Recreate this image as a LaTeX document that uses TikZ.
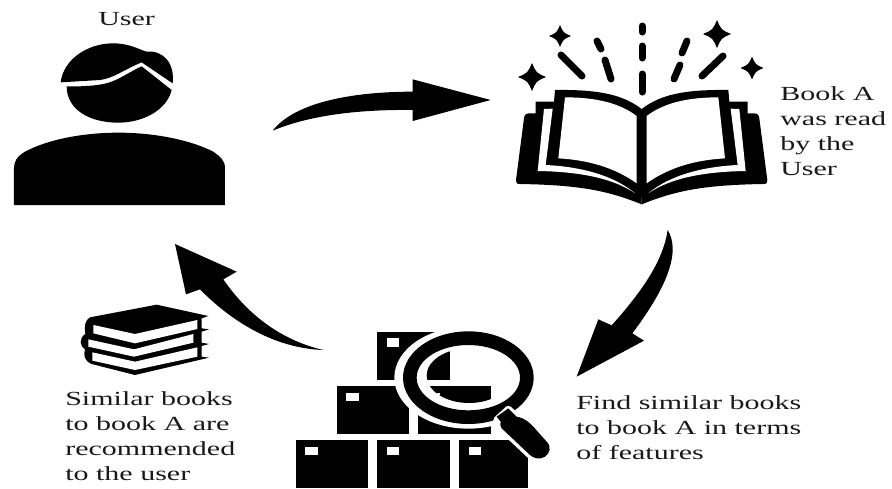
\documentclass[tikz,border=0pt]{standalone}
\usepackage{fontspec}
\setmainfont{Liberation Serif}
\newcommand{\mysparkle}[3]{\fill (#1+#3,#2) .. controls (#1+.3*#3,#2+.3*#3) .. (#1,#2+#3) .. controls (#1-.3*#3,#2+.3*#3) .. (#1-#3,#2) .. controls (#1-.3*#3,#2-.3*#3) .. (#1,#2-#3) .. controls (#1+.3*#3,#2-.3*#3) .. cycle;}
\newcommand{\myboxicon}[2]{\fill (#1,#2) rectangle ++(217,145); \fill[white] (#1+28,#2+20) rectangle ++(38,25);}
\newcommand{\myallboxes}{%
  \myboxicon{292}{35}
  \myboxicon{170}{198}
  \myboxicon{415}{198}
  \myboxicon{47}{360}
  \myboxicon{292}{360}
  \myboxicon{538}{360}}
\newcommand{\myhalfbook}{%
  \fill (425,583) .. controls (330,545) and (250,525) .. (60,522) .. controls (50,522) and (47,518) .. (48,510) -- (72,325) .. controls (73,315) and (78,310) .. (88,310) -- (107,310) -- (107,275) -- (162,275) -- (165,240) .. controls (300,238) and (370,255) .. (425,297) -- cycle;
  \fill[white] (195,262) .. controls (290,262) and (360,280) .. (410,318) -- (410,520) .. controls (340,470) and (260,450) .. (175,445) -- cycle;
  \fill[white] (158,296) -- (132,297) -- (113,483) .. controls (240,485) and (340,505) .. (405,550) .. controls (340,495) and (240,470) .. (137,465) -- cycle;
}
\tikzset{
  lbl/.style={font=\fontsize{20}{25}\selectfont, text=black!90, align=left, anchor=north west, inner sep=0pt, transform shape, xscale=1.5},
  ray/.style={line width=7pt, line cap=round}
}
\begin{document}
\begin{tikzpicture}[x=1pt,y=-1pt]
\useasboundingbox (0,0) rectangle (892,488);
% person
\begin{scope}[x=0.33333pt,y=-0.33333pt]
\fill (182,247) .. controls (190,180) and (260,130) .. (340,130) .. controls (390,130) and (420,150) .. (440,155) .. controls (490,150) and (525,190) .. (518,250) -- (425,187) .. controls (370,210) and (340,235) .. (300,240) -- cycle;
\fill (200,259) .. controls (260,260) and (310,256) .. (340,243) .. controls (370,230) and (400,210) .. (425,199) -- (515,270) .. controls (500,330) and (430,368) .. (355,368) .. controls (270,368) and (200,330) .. (200,259) -- cycle;
\fill (42,615) -- (675,615) -- (675,505) .. controls (675,480) and (660,470) .. (640,455) .. controls (560,415) and (450,398) .. (355,398) .. controls (260,398) and (150,415) .. (75,455) .. controls (50,470) and (42,485) .. (42,505) -- cycle;
\end{scope}
% arrow 1
\begin{scope}[shift={(260,60)},x=0.33333pt,y=-0.33333pt]
\fill (38,212) .. controls (110,120) and (300,95) .. (458,95) -- (458,58) -- (692,120) -- (458,183) -- (458,150) .. controls (300,148) and (150,165) .. (38,212) -- cycle;
\end{scope}
% book
\begin{scope}[shift={(500,10)},x=0.33333pt,y=-0.33333pt]
\myhalfbook
\end{scope}
\begin{scope}[shift={(783.33,10)},x=-0.33333pt,y=-0.33333pt]
\myhalfbook
\end{scope}
\fill (638.5,110) rectangle (645.5,198);
\mysparkle{532}{77}{14}
\mysparkle{560}{36}{11}
\mysparkle{717}{34}{14}
\mysparkle{752}{68}{11.5}
\draw[ray] (561,55) -- (582,76);
\draw[ray] (597,41) -- (601,49);
\draw[ray] (605,60) -- (611,79);
\draw[ray] (642,26) -- (642,32);
\draw[ray] (642,46) -- (642,58);
\draw[ray] (642,74) -- (642,92);
\draw[ray] (687,41) -- (682,53);
\draw[ray] (680,65) -- (674,79);
\draw[ray] (723,56) -- (702,76);
% arrow 2
\begin{scope}[shift={(560,220)},x=0.33333pt,y=-0.33333pt]
\fill (323,30) .. controls (360,90) and (330,190) .. (217,340) -- (252,362) -- (50,470) -- (115,298) -- (155,316) .. controls (250,210) and (310,120) .. (323,30) -- cycle;
\end{scope}
% arrow 3 and small books
\begin{scope}[shift={(60,230)},x=0.33333pt,y=-0.33333pt]
\fill (345,42) -- (530,125) -- (490,148) .. controls (560,250) and (660,330) .. (790,360) .. controls (640,355) and (510,270) .. (420,178) -- (378,193) -- cycle;
\fill (290,224) -- (445,258) -- (425,265) -- (425,295) -- (447,298) -- (425,305) -- (425,338) -- (447,342) -- (425,348) -- (425,380) -- (447,383) -- (225,435) -- (95,402) .. controls (72,392) and (70,375) .. (75,358) .. controls (60,350) and (55,325) .. (76,312) .. controls (72,290) and (75,270) .. (90,262) -- cycle;
\fill[white] (100,285) -- (225,312) -- (412,270) -- (412,297) -- (225,340) -- (100,310) -- cycle;
\fill[white] (85,328) -- (222,358) -- (400,312) -- (400,338) -- (222,380) -- (85,350) -- cycle;
\fill[white] (97,367) -- (225,395) -- (412,352) -- (412,380) -- (225,420) -- (97,392) -- cycle;
\end{scope}
% boxes and magnifier
\begin{scope}[shift={(280,320)},x=0.33333pt,y=-0.33333pt]
\clip (0,0) rectangle (840,504);
\myallboxes
\fill[white] (745,340) rectangle (840,504);
\fill[white] (565,173) ellipse [x radius=222, y radius=153];
\begin{scope}
\clip (567,167) ellipse [x radius=127, y radius=82];
\myallboxes
\end{scope}
\fill[even odd rule] (565,173) ellipse [x radius=196, y radius=139] (565,173) ellipse [x radius=155, y radius=98];
\filldraw[draw=white,line width=7pt,line join=round] (650,300) -- (685,268) -- (710,290) .. controls (735,295) and (745,305) .. (760,320) -- (800,365) .. controls (815,380) and (810,400) .. (795,410) .. controls (780,420) and (760,415) .. (750,405) -- (665,325) .. controls (660,318) and (660,312) .. (662,305) -- cycle;
\fill (650,290) -- (685,265) -- (710,290) .. controls (735,295) and (745,305) .. (760,320) -- (800,365) .. controls (815,380) and (810,400) .. (795,410) .. controls (780,420) and (760,415) .. (750,405) -- (665,325) .. controls (660,318) and (660,312) .. (662,305) -- cycle;
\end{scope}
% labels
\node[lbl] (user) at (98,12) {User};
\node[lbl] (read) at (780,86) {Book A\\was read\\by the\\User};
\node[lbl] (find) at (576,395) {Find similar books\\to book A in terms\\of features};
\node[lbl] (similar) at (65,391) {Similar books\\to book A are\\recommended\\to the user};
\end{tikzpicture}
\end{document}
